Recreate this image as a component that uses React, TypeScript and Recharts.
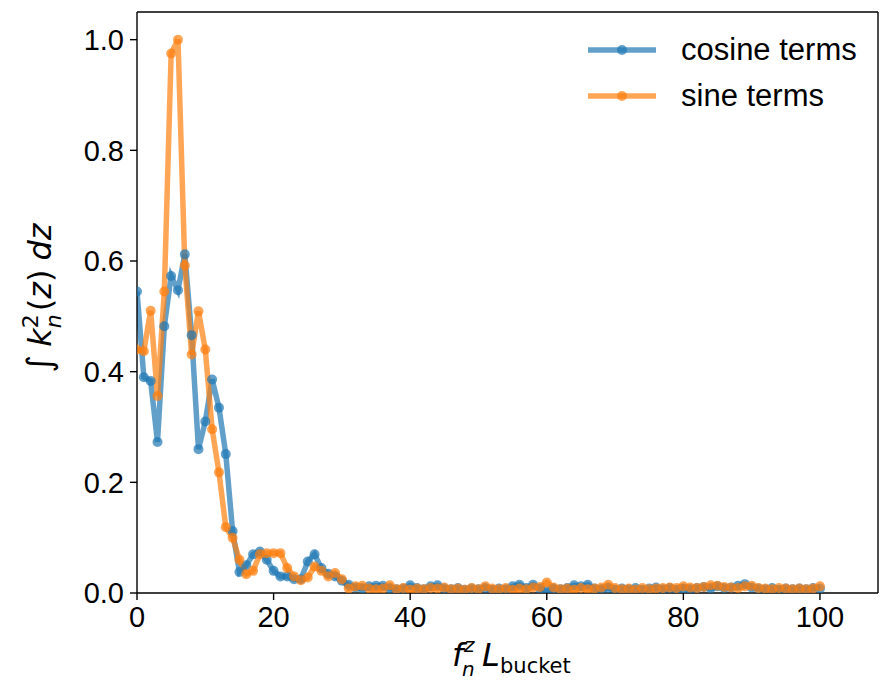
import React from 'react';
import { LineChart, Line, XAxis, YAxis, ReferenceLine } from 'recharts';

const xValues: number[] = Array.from({ length: 101 }, (_, i) => i);

const cosineTerms: number[] = [
  0.545, 0.39, 0.383, 0.273, 0.482, 0.573, 0.547, 0.612, 0.466, 0.26,
  0.31, 0.386, 0.335, 0.251, 0.112, 0.038, 0.05, 0.07, 0.075, 0.06,
  0.04, 0.03, 0.03, 0.025, 0.025, 0.057, 0.07, 0.045, 0.035, 0.03,
  0.022, 0.015, 0.01, 0.008, 0.012, 0.013, 0.013, 0.008, 0.007, 0.008,
  0.014, 0.009, 0.007, 0.012, 0.014, 0.008, 0.007, 0.009, 0.006, 0.008,
  0.007, 0.009, 0.006, 0.008, 0.007, 0.012, 0.015, 0.009, 0.015, 0.008,
  0.003, 0.008, 0.007, 0.009, 0.014, 0.012, 0.015, 0.008, 0.007, 0.009,
  0.006, 0.008, 0.007, 0.009, 0.006, 0.008, 0.01, 0.007, 0.009, 0.006,
  0.008, 0.007, 0.009, 0.011, 0.008, 0.012, 0.009, 0.01, 0.013, 0.016,
  0.01, 0.008, 0.007, 0.009, 0.006, 0.008, 0.007, 0.008, 0.007, 0.009,
  0.008,
];

const sineTerms: number[] = [
  0.44, 0.437, 0.51, 0.356, 0.545, 0.975, 1.0, 0.592, 0.431, 0.509,
  0.44, 0.296, 0.218, 0.119, 0.1, 0.06, 0.034, 0.04, 0.07, 0.072,
  0.072, 0.072, 0.045, 0.03, 0.023, 0.028, 0.048, 0.04, 0.03, 0.036,
  0.025, 0.008, 0.012, 0.013, 0.008, 0.007, 0.008, 0.014, 0.007, 0.009,
  0.006, 0.008, 0.007, 0.009, 0.008, 0.01, 0.007, 0.008, 0.006, 0.009,
  0.007, 0.012, 0.008, 0.007, 0.009, 0.006, 0.008, 0.007, 0.01, 0.011,
  0.019, 0.01, 0.007, 0.008, 0.006, 0.009, 0.007, 0.008, 0.01, 0.015,
  0.009, 0.007, 0.008, 0.006, 0.009, 0.007, 0.008, 0.009, 0.01, 0.009,
  0.012, 0.01, 0.009, 0.011, 0.014, 0.013, 0.011, 0.01, 0.009, 0.012,
  0.013, 0.009, 0.008, 0.007, 0.009, 0.008, 0.007, 0.008, 0.007, 0.008,
  0.012,
];

const xTicks = [0, 20, 40, 60, 80, 100];
const yTicks = [0, 0.2, 0.4, 0.6, 0.8, 1.0];
const seriesNames = ['cosine terms', 'sine terms'];
const X_MAX = 108.5;
const Y_MAX = 1.05;

const data = xValues.map((x, i) => ({ x, cos: cosineTerms[i], sin: sineTerms[i] }));

const BLUE = '#1f77b4';
const ORANGE = '#ff7f0e';
const FONT = '"Liberation Sans", Arial, sans-serif';
const MATH = '"DejaVu Sans", sans-serif';
const TICK_FS = 29;

const YLabel = () => (
  <g transform="translate(51,298) rotate(-90)">
    <text textAnchor="middle" fontFamily={MATH} fontSize={32} fill="#000">
      <tspan fontSize={34}>∫</tspan>
      <tspan fontStyle="italic" dx={8}>k</tspan>
      <tspan fontSize={22} dy={-13}>2</tspan>
      <tspan fontSize={22} fontStyle="italic" dx={-14} dy={23}>n</tspan>
      <tspan dy={-10} dx={3}>(</tspan>
      <tspan fontStyle="italic">z</tspan>
      <tspan>)</tspan>
      <tspan fontStyle="italic" dx={9}>dz</tspan>
    </text>
  </g>
);

const XLabel = () => (
  <g>
    <text x={452} y={666} fontFamily={MATH} fontSize={32} fontStyle="italic" fill="#000">f</text>
    <text x={464} y={652} fontFamily={MATH} fontSize={20} fontStyle="italic" fill="#000">z</text>
    <text x={462} y={676} fontFamily={MATH} fontSize={20} fontStyle="italic" fill="#000">n</text>
    <text x={482} y={666} fontFamily={MATH} fontSize={32} fontStyle="italic" fill="#000">L</text>
    <text x={500} y={673} fontFamily={MATH} fontSize={21} fill="#000">bucket</text>
  </g>
);

const LegendRow = ({ color, label }: { color: string; label: string }) => (
  <div style={{ display: 'flex', alignItems: 'center', height: 46 }}>
    <svg width={72} height={20} style={{ marginRight: 23 }}>
      <line x1={2} y1={10} x2={70} y2={10} stroke={color} strokeOpacity={0.7} strokeWidth={5.5} />
      <circle cx={36} cy={10} r={5} fill={color} fillOpacity={0.7} />
    </svg>
    <span style={{ fontFamily: FONT, fontSize: 31, color: '#000', whiteSpace: 'nowrap' }}>{label}</span>
  </div>
);

export default function App() {
  return (
    <div style={{ position: 'absolute', left: 0, top: 0, width: 880, height: 691, background: '#fff' }}>
      <LineChart
        width={880}
        height={691}
        data={data}
        margin={{ top: 12, right: 2, bottom: 0, left: 0 }}
      >
        <XAxis
          xAxisId="b"
          dataKey="x"
          type="number"
          domain={[0, X_MAX]}
          ticks={xTicks}
          allowDataOverflow
          height={98}
          tickSize={7}
          tickMargin={6}
          axisLine={{ stroke: '#000', strokeWidth: 1.4 }}
          tickLine={{ stroke: '#000', strokeWidth: 1.4 }}
          tick={{ fill: '#000', fontSize: TICK_FS, fontFamily: FONT }}
        />
        <YAxis
          yAxisId="l"
          type="number"
          domain={[0, Y_MAX]}
          ticks={yTicks}
          allowDataOverflow
          width={137}
          tickSize={7}
          tickMargin={6}
          tickFormatter={(v: number) => v.toFixed(1)}
          axisLine={{ stroke: '#000', strokeWidth: 1.4 }}
          tickLine={{ stroke: '#000', strokeWidth: 1.4 }}
          tick={{ fill: '#000', fontSize: TICK_FS, fontFamily: FONT }}
        />
        <ReferenceLine xAxisId="b" yAxisId="l" y={Y_MAX} stroke="#000" strokeWidth={1.4} />
        <ReferenceLine xAxisId="b" yAxisId="l" x={X_MAX} stroke="#000" strokeWidth={1.4} />
        <Line
          xAxisId="b"
          yAxisId="l"
          dataKey="cos"
          name={seriesNames[0]}
          stroke={BLUE}
          strokeOpacity={0.7}
          strokeWidth={5.5}
          dot={{ r: 5, fill: BLUE, fillOpacity: 0.7, stroke: 'none' }}
          isAnimationActive={false}
        />
        <Line
          xAxisId="b"
          yAxisId="l"
          dataKey="sin"
          name={seriesNames[1]}
          stroke={ORANGE}
          strokeOpacity={0.7}
          strokeWidth={5.5}
          dot={{ r: 5, fill: ORANGE, fillOpacity: 0.7, stroke: 'none' }}
          isAnimationActive={false}
        />
        <YLabel />
        <XLabel />
      </LineChart>
      <div style={{ position: 'absolute', left: 586, top: 27 }}>
        <LegendRow color={BLUE} label={seriesNames[0]} />
        <LegendRow color={ORANGE} label={seriesNames[1]} />
      </div>
    </div>
  );
}
